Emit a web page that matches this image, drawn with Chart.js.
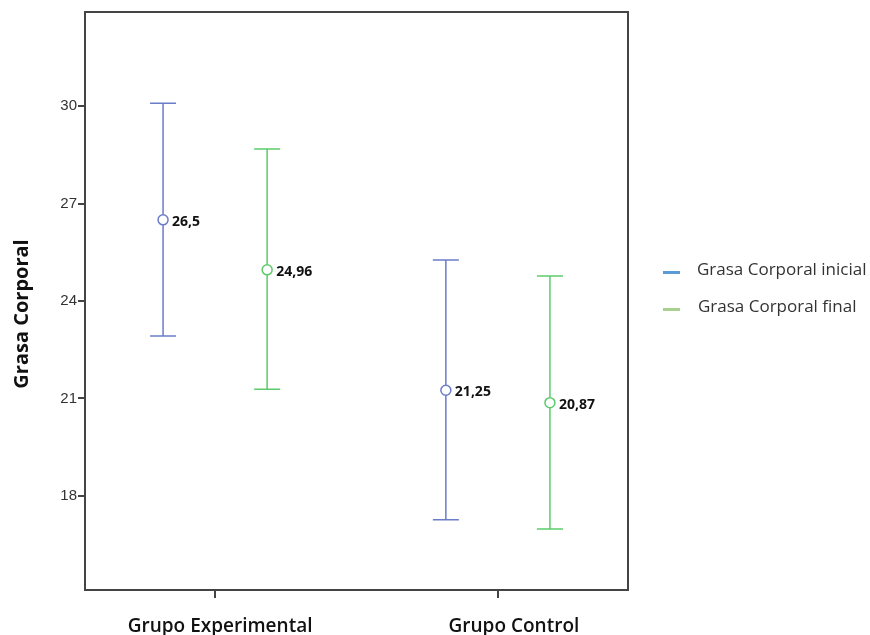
<!DOCTYPE html>
<html lang="es">
<head>
  <meta charset="UTF-8">
  <title>Grasa Corporal</title>
  <script src="https://cdn.jsdelivr.net/npm/chart.js"></script>
  <style>
    html, body { margin: 0; padding: 0; background: #fff; }
    #wrap { width: 870px; height: 635px; }
  </style>
</head>
<body>
  <div id="wrap"><canvas id="grasaChart" width="870" height="635"></canvas></div>

  <script>
    // datos
    const grupos = ['Grupo Experimental', 'Grupo Control'];
    const series = ['Grasa Corporal inicial', 'Grasa Corporal final'];
    const mediaInicial = [26.5, 21.25];
    const mediaFinal = [24.96, 20.87];
    const bajoInicial = [22.92, 17.26];
    const altoInicial = [30.09, 25.26];
    const bajoFinal = [21.28, 16.98];
    const altoFinal = [28.68, 24.77];
    const etiquetasY = [18, 21, 24, 27, 30];
    const tituloY = 'Grasa Corporal';

    const colorInicial = '#6b7cc9';
    const colorFinal = '#5ecb6b';
    const leyendaColores = ['#5b9bd5', '#a9d18e'];
    const desplaz = 0.184; // separacion de cada serie respecto al centro del grupo
    const corrEtiqueta = [5, 16]; // las etiquetas del eje x no quedan centradas en su marca

    function puntos(medias, signo) {
      return medias.map((m, i) => ({ x: i + 1 + signo * desplaz, y: m }));
    }

    // barras de error, marco, etiquetas, titulo y leyenda
    const extras = {
      id: 'extras',
      afterDatasetsDraw(chart) {
        const c = chart.ctx;
        const xs = chart.scales.x, ys = chart.scales.y;
        const conj = [
          { med: mediaInicial, lo: bajoInicial, hi: altoInicial, col: colorInicial, s: -1 },
          { med: mediaFinal, lo: bajoFinal, hi: altoFinal, col: colorFinal, s: 1 }
        ];
        c.save();
        conj.forEach(d => {
          d.med.forEach((m, i) => {
            const px = xs.getPixelForValue(i + 1 + d.s * desplaz);
            const yl = ys.getPixelForValue(d.lo[i]);
            const yh = ys.getPixelForValue(d.hi[i]);
            const ym = ys.getPixelForValue(m);
            c.strokeStyle = d.col;
            c.lineWidth = 1.5;
            c.beginPath();
            c.moveTo(px, yh); c.lineTo(px, ym - 5);
            c.moveTo(px, ym + 5); c.lineTo(px, yl);
            c.moveTo(px - 13, yh); c.lineTo(px + 13, yh);
            c.moveTo(px - 13, yl); c.lineTo(px + 13, yl);
            c.stroke();
            c.fillStyle = '#111';
            c.font = 'bold 14px "Open Sans", sans-serif';
            c.textAlign = 'left';
            c.textBaseline = 'middle';
            c.fillText(String(m).replace('.', ','), px + 9, ym + 2);
          });
        });
        // marco
        const a = chart.chartArea;
        c.strokeStyle = '#444';
        c.lineWidth = 2;
        c.strokeRect(a.left, a.top, a.right - a.left, a.bottom - a.top);
        // etiquetas del eje x
        c.fillStyle = '#111';
        c.font = '600 19px "Open Sans", sans-serif';
        c.textAlign = 'center';
        c.textBaseline = 'alphabetic';
        grupos.forEach((g, i) => {
          c.fillText(g, xs.getPixelForValue(i + 1) + corrEtiqueta[i], a.bottom + 42);
        });
        // titulo del eje y
        c.save();
        c.translate(22, 314);
        c.rotate(-Math.PI / 2);
        c.font = 'bold 20px "Open Sans", sans-serif';
        c.textBaseline = 'middle';
        c.fillText(tituloY, 0, 0);
        c.restore();
        // leyenda
        c.font = '17px "Open Sans", sans-serif';
        c.textAlign = 'left';
        c.textBaseline = 'middle';
        series.forEach((s, i) => {
          const y = 271 + i * 37;
          c.fillStyle = leyendaColores[i];
          c.fillRect(663, y, 17, 3);
          c.fillStyle = '#333';
          c.fillText(s, 697 + i, y - 1);
        });
        c.restore();
      }
    };

    const ctx = document.getElementById('grasaChart').getContext('2d');
    const grasaChart = new Chart(ctx, {
      type: 'scatter',
      data: {
        datasets: [{
          label: series[0],
          data: puntos(mediaInicial, -1),
          borderColor: colorInicial,
          backgroundColor: 'rgba(0,0,0,0)',
          pointRadius: 5,
          pointBorderWidth: 1.5
        }, {
          label: series[1],
          data: puntos(mediaFinal, 1),
          borderColor: colorFinal,
          backgroundColor: 'rgba(0,0,0,0)',
          pointRadius: 5,
          pointBorderWidth: 1.5
        }]
      },
      options: {
        responsive: false,
        animation: false,
        layout: { padding: { top: 12, right: 242, left: 0, bottom: 0 } },
        plugins: {
          legend: { display: false },
          tooltip: { enabled: false }
        },
        scales: {
          x: {
            type: 'linear',
            min: 0.54,
            max: 2.46,
            afterBuildTicks: ax => { ax.ticks = grupos.map((g, i) => ({ value: i + 1 })); },
            afterFit: ax => { ax.height = 45; },
            grid: { drawOnChartArea: false, drawTicks: true, tickLength: 8, color: '#444', lineWidth: 2 },
            border: { display: true, color: '#444', width: 2 },
            ticks: { display: false }
          },
          y: {
            min: 15.1,
            max: 32.9,
            afterBuildTicks: ax => { ax.ticks = etiquetasY.map(v => ({ value: v })); },
            afterFit: ax => { ax.width = 85; },
            grid: { drawOnChartArea: false, drawTicks: true, tickLength: 7, color: '#444', lineWidth: 2 },
            border: { display: true, color: '#444', width: 2 },
            ticks: {
              padding: 1,
              color: '#333',
              font: { family: '"Liberation Sans", Arial, sans-serif', size: 15 }
            }
          }
        }
      },
      plugins: [extras]
    });
  </script>
</body>
</html>
